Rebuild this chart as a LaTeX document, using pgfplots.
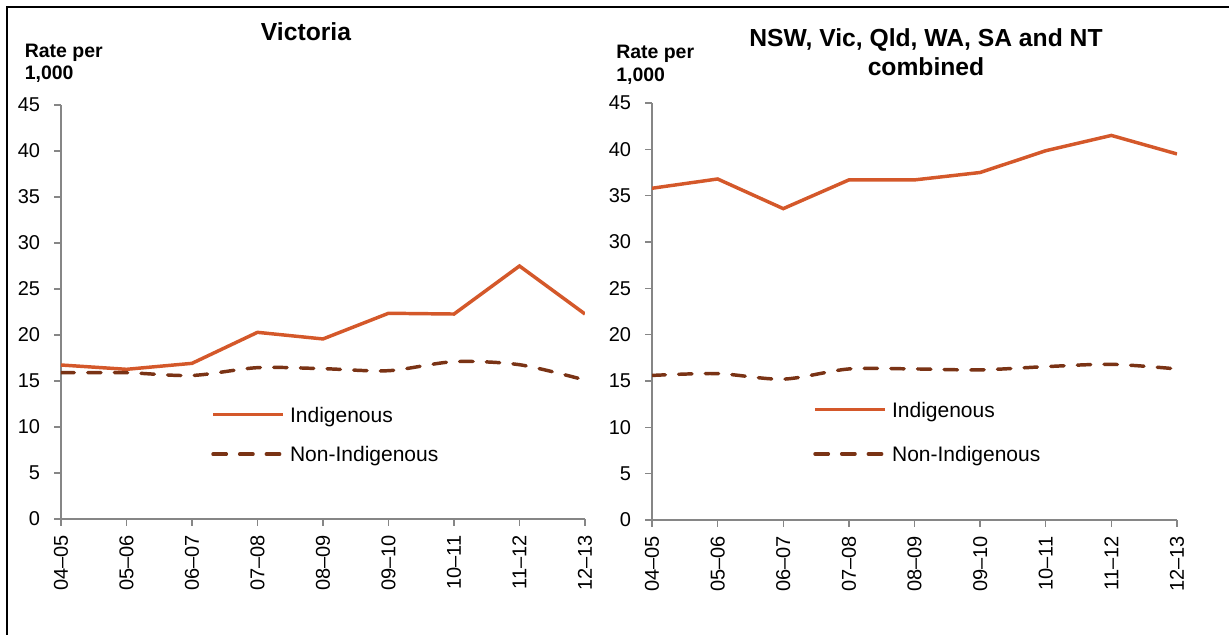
\documentclass[border=0pt]{standalone}
\usepackage{pgfplots}
\pgfplotsset{compat=1.18}
\usepackage{pgfplotstable}
\usepackage{fontspec}
\setmainfont{Liberation Sans}
\definecolor{indig}{HTML}{D4582A}
\definecolor{nonind}{HTML}{7A3315}
\definecolor{axgray}{HTML}{868686}

\pgfplotstableread{
x vicind vicnon allind allnon
0 16.74 15.90 35.8 15.6
1 16.27 15.90 36.8 15.8
2 16.92 15.60 33.6 15.2
3 20.29 16.45 36.7 16.3
4 19.57 16.34 36.7 16.3
5 22.36 16.12 37.5 16.2
6 22.28 17.10 39.85 16.55
7 27.50 16.77 41.5 16.8
8 22.28 15.10 39.5 16.3
}\datatable

\pgfplotsset{
  myaxis/.style={
    scale only axis, anchor=south west,
    xmin=0, xmax=8, ymin=0, ymax=45,
    ytick={0,5,...,45},
    xtick={0,...,8},
    xticklabels={04–05,05–06,06–07,07–08,08–09,09–10,10–11,11–12,12–13},
    axis x line*=bottom, axis y line*=left,
    axis line style={axgray, line width=1.1pt},
    tick style={axgray, line width=1.1pt},
    major tick length=5pt,
    tick align=outside,
    tick label style={font=\fontsize{15}{18}\selectfont, /pgf/number format/assume math mode=true},
    xticklabel style={rotate=90, anchor=east, inner sep=0pt, xshift=-7pt},
    yticklabel style={anchor=east, inner sep=0pt, xshift=-10.5pt},
    legend cell align=left,
    legend image code/.code={\draw[##1] (0pt,0pt) -- (52.5pt,0pt);},
    indstyle/.style={indig, line width=2.6pt},
    nonstyle/.style={nonind, line width=2.6pt, line cap=round, dash pattern=on 10pt off 10pt},
  }
}

\begin{document}
\begin{tikzpicture}
\path[use as bounding box] (0,0) rectangle (921.75pt,476.25pt);
\draw[black, line width=1.6pt] (5.25pt,0pt) -- (5.25pt,471pt) -- (921.75pt,471pt);

\node[anchor=base, font=\bfseries\fontsize{18.5}{22}\selectfont] at (229.5pt,445.5pt) {Victoria};
\node[anchor=base west, inner sep=0pt, font=\bfseries\fontsize{14.6}{17}\selectfont] at (18.4pt,433.3pt) {Rate per};
\node[anchor=base west, inner sep=0pt, font=\bfseries\fontsize{14.6}{17}\selectfont] at (18.4pt,416.25pt) {1,000};

\node[anchor=base, font=\bfseries\fontsize{18.5}{22}\selectfont] at (694.5pt,441.2pt) {NSW, Vic, Qld, WA, SA and NT};
\node[anchor=base, font=\bfseries\fontsize{18.5}{22}\selectfont] at (694.5pt,419.25pt) {combined};
\node[anchor=base west, inner sep=0pt, font=\bfseries\fontsize{14.6}{17}\selectfont] at (462pt,432.5pt) {Rate per};
\node[anchor=base west, inner sep=0pt, font=\bfseries\fontsize{14.6}{17}\selectfont] at (462pt,414.75pt) {1,000};

\begin{axis}[myaxis, at={(45.75pt,87pt)}, width=393pt, height=310.5pt,
  legend style={at={(0.2863,0.2713)}, anchor=north west, draw=none, fill=none, inner sep=0pt,
    row sep=18.5pt, column sep=4pt, font=\fontsize{15.75}{18}\selectfont,
    nodes={inner sep=0pt, text height=11.3pt, text depth=0pt}}]
\addplot[indstyle] table[x=x, y=vicind] {\datatable};
\addlegendentry{Indigenous}
\addplot[nonstyle, smooth, tension=0.5] table[x=x, y=vicnon] {\datatable};
\addlegendentry{Non-Indigenous}
\end{axis}

\begin{axis}[myaxis, at={(489pt,86.25pt)}, width=393.75pt, height=312.75pt,
  legend style={at={(0.3067,0.2837)}, anchor=north west, draw=none, fill=none, inner sep=0pt,
    row sep=22pt, column sep=4pt, font=\fontsize{15.75}{18}\selectfont,
    nodes={inner sep=0pt, text height=11.3pt, text depth=0pt}}]
\addplot[indstyle] table[x=x, y=allind] {\datatable};
\addlegendentry{Indigenous}
\addplot[nonstyle, smooth, tension=0.5] table[x=x, y=allnon] {\datatable};
\addlegendentry{Non-Indigenous}
\end{axis}
\end{tikzpicture}
\end{document}
